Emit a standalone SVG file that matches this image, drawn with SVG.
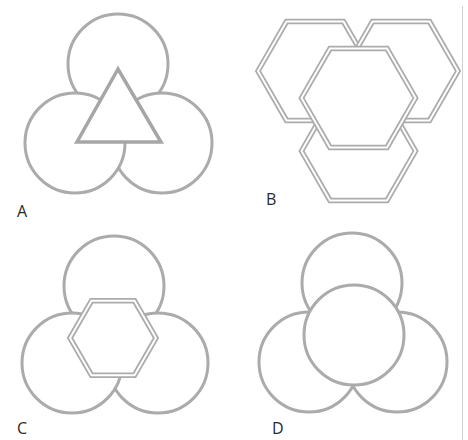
<svg xmlns="http://www.w3.org/2000/svg" width="468" height="440" viewBox="0 0 468 440">
<style>
.c{fill:#fff;stroke:#ababab;stroke-width:3}
.t{fill:#fff;stroke:#a6a6a6;stroke-width:3.5;stroke-linejoin:miter}
.ho{fill:#fff;stroke:#ababab;stroke-width:5.5;stroke-linejoin:miter}
.hi{fill:none;stroke:#fff;stroke-width:2}
.lb{font-family:"Open Sans","Liberation Sans",sans-serif;font-size:16px;fill:#2a2a2a}
</style>
<rect width="468" height="440" fill="#fff"/>
<g id="panelA">
<circle class="c" cx="118" cy="64" r="50"/>
<circle class="c" cx="162" cy="143" r="50"/>
<circle class="c" cx="75" cy="143" r="50"/>
<polygon class="t" points="118,69 77,142 161,142"/>
<text class="lb" x="17" y="217">A</text>
</g>
<g id="panelB">
<g id="hexTL"><polygon class="ho" points="258,71 286.5,21.6 343.5,21.6 372,71 343.5,120.4 286.5,120.4"/><polygon class="hi" points="258,71 286.5,21.6 343.5,21.6 372,71 343.5,120.4 286.5,120.4"/></g>
<g id="hexTR"><polygon class="ho" points="344,71 372.5,21.6 429.5,21.6 458,71 429.5,120.4 372.5,120.4"/><polygon class="hi" points="344,71 372.5,21.6 429.5,21.6 458,71 429.5,120.4 372.5,120.4"/></g>
<g id="hexB"><polygon class="ho" points="301.5,151 330,101.6 387,101.6 415.5,151 387,200.4 330,200.4"/><polygon class="hi" points="301.5,151 330,101.6 387,101.6 415.5,151 387,200.4 330,200.4"/></g>
<g id="hexC"><polygon class="ho" points="301.5,98 330,48.6 387,48.6 415.5,98 387,147.4 330,147.4"/><polygon class="hi" points="301.5,98 330,48.6 387,48.6 415.5,98 387,147.4 330,147.4"/></g>
<text class="lb" x="266" y="205">B</text>
</g>
<g id="panelC">
<circle class="c" cx="114" cy="286" r="50"/>
<circle class="c" cx="158" cy="363" r="50"/>
<circle class="c" cx="72" cy="363" r="50"/>
<polygon class="ho" points="70,338 91.5,300.8 134.5,300.8 156,338 134.5,375.2 91.5,375.2"/>
<polygon class="hi" points="70,338 91.5,300.8 134.5,300.8 156,338 134.5,375.2 91.5,375.2"/>
<text class="lb" x="17" y="434">C</text>
</g>
<g id="panelD">
<circle class="c" cx="352" cy="283" r="50"/>
<circle class="c" cx="397" cy="362" r="50"/>
<circle class="c" cx="309" cy="362" r="50"/>
<circle class="c" cx="354" cy="335" r="50"/>
<text class="lb" x="272" y="434">D</text>
</g>
<line x1="462.5" y1="6" x2="462.5" y2="440" stroke="#d0d0d0" stroke-width="1"/>
</svg>
